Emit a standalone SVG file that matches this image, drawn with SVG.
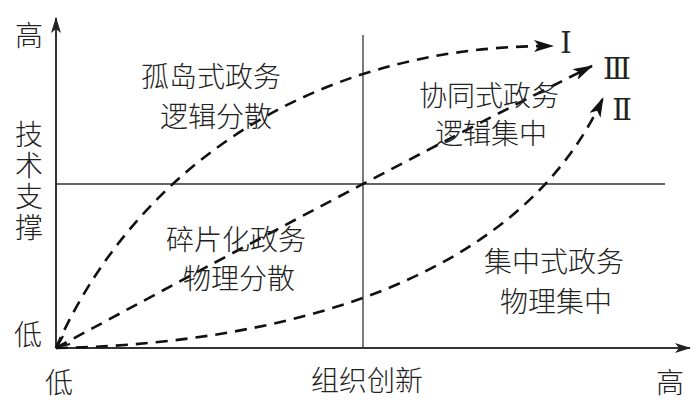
<svg xmlns="http://www.w3.org/2000/svg" width="700" height="410" viewBox="0 0 700 410">
<defs>
<style>
.t{font-family:"Noto Sans CJK SC","Noto Sans CJK JP",sans-serif;font-size:28px;fill:#222;font-weight:300}
.r{font-family:"DejaVu Serif","Liberation Serif",serif;font-size:29px;fill:#222}
.axis{stroke:#333;stroke-width:2;fill:none}
.grid{stroke:#333;stroke-width:1.3;fill:none}
.dash{stroke:#111;stroke-width:2.6;fill:none;stroke-dasharray:12 8}
</style>
<marker id="ah" viewBox="0 0 20 12" refX="19" refY="6" markerWidth="20" markerHeight="12" markerUnits="userSpaceOnUse" orient="auto">
<path d="M0,0 L20,6 L0,12 L5,6 Z" fill="#111"/>
</marker>
<marker id="ax" viewBox="0 0 16 10" refX="15" refY="5" markerWidth="16" markerHeight="10" markerUnits="userSpaceOnUse" orient="auto">
<path d="M0,0 L16,5 L0,10 L4,5 Z" fill="#222"/>
</marker>
</defs>
<rect width="700" height="410" fill="#fff"/>
<g id="axes">
<line class="axis" x1="56" y1="348" x2="56" y2="18" marker-end="url(#ax)"/>
<line class="axis" x1="56" y1="348" x2="690" y2="348" marker-end="url(#ax)"/>
<line class="grid" x1="363" y1="35" x2="363" y2="348"/>
<line class="grid" x1="56" y1="184" x2="665" y2="184"/>
</g>
<g id="axis-labels">
<text class="t" x="15" y="46">高</text>
<text class="t" x="29" y="120" writing-mode="tb" letter-spacing="3">技术支撑</text>
<text class="t" x="14" y="345">低</text>
<text class="t" x="45" y="393">低</text>
<text class="t" x="311" y="391">组织创新</text>
<text class="t" x="656" y="393">高</text>
</g>
<g id="connectors">
<path class="dash" d="M56,348 C130,180 300,45 553,46" marker-end="url(#ah)"/>
<path class="dash" d="M56,348 Q402,161 592,66" marker-end="url(#ah)"/>
<path class="dash" d="M56,348 C240,345 510,300 603,98" marker-end="url(#ah)"/>
<path d="M63,336 L57,347 L70,344" stroke="#111" stroke-width="2.2" fill="none"/>
</g>
<g id="q1"><text class="t" x="211" y="87" text-anchor="middle">孤岛式政务</text><text class="t" x="216" y="127" text-anchor="middle">逻辑分散</text></g>
<g id="q2"><text class="t" x="489" y="106" text-anchor="middle">协同式政务</text><text class="t" x="491" y="144" text-anchor="middle">逻辑集中</text></g>
<g id="q3"><text class="t" x="236" y="250" text-anchor="middle">碎片化政务</text><text class="t" x="239" y="289" text-anchor="middle">物理分散</text></g>
<g id="q4"><text class="t" x="554" y="272" text-anchor="middle">集中式政务</text><text class="t" x="556" y="312" text-anchor="middle">物理集中</text></g>
<g id="numerals">
<text class="r" x="566" y="53" text-anchor="middle">Ⅰ</text>
<text class="r" x="617" y="79" text-anchor="middle">Ⅲ</text>
<text class="r" x="622" y="120" text-anchor="middle">Ⅱ</text>
</g>
</svg>
